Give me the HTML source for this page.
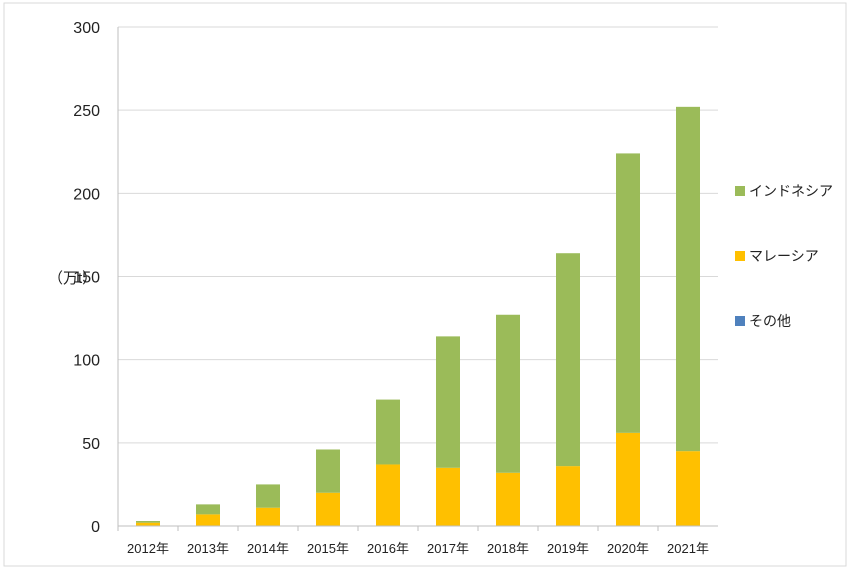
<!DOCTYPE html>
<html><head><meta charset="utf-8"><style>
body{margin:0;background:#fff;}
svg text{font-family:"Liberation Sans","Noto Sans CJK JP",sans-serif;fill:#222;}
</style></head><body>
<svg width="853" height="572" viewBox="0 0 853 572">
<rect x="4" y="3" width="842" height="563" fill="#fff" stroke="#d9d9d9"/>
<g id="grid"></g><g id="bars"></g><g id="axes"></g>
<text x="48" y="283" font-size="15">（万t）</text>
<g>
<rect x="735" y="186" width="10" height="10" fill="#9bbb59"/>
<text x="749" y="196" font-size="14">インドネシア</text>
<rect x="735" y="251" width="10" height="10" fill="#ffc000"/>
<text x="749" y="261" font-size="14">マレーシア</text>
<rect x="735" y="316" width="10" height="10" fill="#4f81bd"/>
<text x="749" y="326" font-size="14">その他</text>
</g>
</svg>
<script>
const categories=["2012年","2013年","2014年","2015年","2016年","2017年","2018年","2019年","2020年","2021年"];
const other=[0,0,0,0,0,0,0,0,0,0];
const malaysia=[2,7,11,20,37,35,32,36,56,45];
const indonesia=[1,6,14,26,39,79,95,128,168,207];
const yTicks=[0,50,100,150,200,250,300];
const NS="http://www.w3.org/2000/svg";
const x0=118,step=60,y0=526,yTop=27,yMax=300,bw=24;
const yS=v=>y0-(v/yMax)*(y0-yTop);
const xS=i=>x0+step*i+step/2;
function mk(t,a,p){const e=document.createElementNS(NS,t);for(const k in a)e.setAttribute(k,a[k]);p.appendChild(e);return e;}
const g=document.getElementById('grid'),b=document.getElementById('bars'),ax=document.getElementById('axes');
yTicks.forEach(v=>{
 if(v>0){const l=mk('line',{x1:x0,x2:x0+step*categories.length,y1:yS(v),y2:yS(v),stroke:'#d9d9d9'},g);
 
 }
 const t=mk('text',{x:x0-18,y:yS(v)+6,'font-size':16,'text-anchor':'end'},ax);t.textContent=v;
 
 
});
mk('line',{x1:x0,x2:x0,y1:yTop,y2:y0,stroke:'#bfbfbf'},ax);
mk('line',{x1:x0,x2:x0+step*categories.length,y1:y0,y2:y0,stroke:'#bfbfbf'},ax);
categories.forEach((c,i)=>{
 const tk=mk('line',{x1:x0+step*i,x2:x0+step*i,y1:y0,y2:y0+5,stroke:'#bfbfbf'},ax);
 
 
 let base=0;
 [[other,'#4f81bd','other'],[malaysia,'#ffc000','malaysia'],[indonesia,'#9bbb59','indonesia']].forEach(([arr,col,n])=>{
  const v=arr[i];if(v<=0)return;
  const r=mk('rect',{x:xS(i)-bw/2,y:yS(base+v),width:bw,height:yS(base)-yS(base+v),fill:col},b);
  
  
  base+=v;
 });
 const t=mk('text',{x:xS(i),y:553,'font-size':13,'text-anchor':'middle'},ax);t.textContent=c;
 
 
});
</script>
</body></html>
